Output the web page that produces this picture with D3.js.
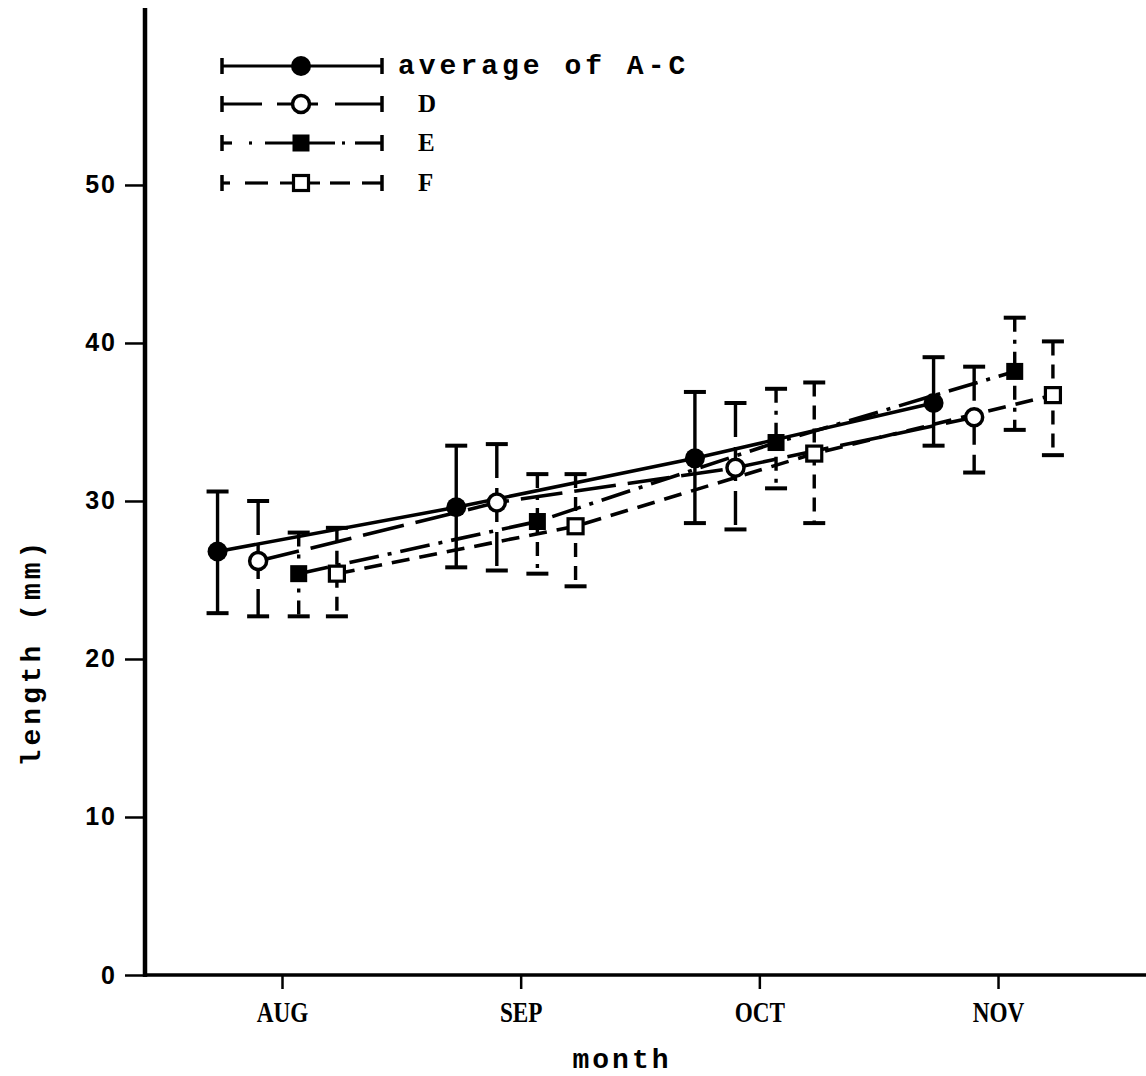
<!DOCTYPE html>
<html>
<head>
<meta charset="utf-8">
<script src="https://cdn.jsdelivr.net/npm/d3@7"></script>
<style>
  html, body { margin: 0; padding: 0; background: #fff; }
  svg { display: block; }
</style>
</head>
<body>
<svg id="chart" width="1146" height="1076"></svg>
<script>
// ---- data ----
const months = ["AUG", "SEP", "OCT", "NOV"];
const seriesNames = ["average of A-C", "D", "E", "F"];
const yTicks = [0, 10, 20, 30, 40, 50];

const avgMean = [26.8, 29.6, 32.7, 36.2];
const avgLow  = [22.9, 25.8, 28.6, 33.5];
const avgHigh = [30.6, 33.5, 36.9, 39.1];

const dMean = [26.2, 29.9, 32.1, 35.3];
const dLow  = [22.7, 25.6, 28.2, 31.8];
const dHigh = [30.0, 33.6, 36.2, 38.5];

const eMean = [25.4, 28.7, 33.7, 38.2];
const eLow  = [22.7, 25.4, 30.8, 34.5];
const eHigh = [28.0, 31.7, 37.1, 41.6];

const fMean = [25.4, 28.4, 33.0, 36.7];
const fLow  = [22.7, 24.6, 28.6, 32.9];
const fHigh = [28.3, 31.7, 37.5, 40.1];

// ---- styling config ----
const dodge = [-0.27, -0.1, 0.07, 0.23];           // within-month offsets (in month units)
const dashes = [null, "42,12", "30,9,4,9", "18,10"];
const barDashes = [null, "34,10", "14,8,4,8", "14,9"];
const markers = ["circleFilled", "circleOpen", "squareFilled", "squareOpen"];
// legend sample line segments (relative 0..160 along the sample)
const legendSegs = [
  [[0, 160]],
  [[0, 40], [55, 96], [113, 160]],
  [[0, 10], [27, 30], [43, 113], [120, 123], [133, 160]],
  [[0, 8], [23, 46], [58, 98], [108, 128], [140, 160]]
];

const series = seriesNames.map((name, i) => ({
  name,
  mean: [avgMean, dMean, eMean, fMean][i],
  low:  [avgLow, dLow, eLow, fLow][i],
  high: [avgHigh, dHigh, eHigh, fHigh][i],
  dodge: dodge[i], dash: dashes[i], barDash: barDashes[i], marker: markers[i]
}));

const svg = d3.select("#chart");
const x = d3.scaleLinear().domain([-0.574, 3.62]).range([145, 1146]);
const y = d3.scaleLinear().domain([0, 61.2]).range([975, 8]);

const mono = "'Liberation Mono', 'DejaVu Sans Mono', monospace";

// axes
const yAxis = d3.axisLeft(y).tickValues(yTicks).tickSize(20).tickPadding(8).tickFormat(d3.format("d"));
const gy = svg.append("g").attr("transform", "translate(145,0)").call(yAxis);
gy.select(".domain").remove();
gy.selectAll(".tick line").attr("stroke", "#000").attr("stroke-width", 2.5);
gy.selectAll(".tick text").attr("font-family", "'Liberation Sans', Arial, sans-serif")
  .attr("font-size", 25).attr("font-weight", "bold").attr("fill", "#000").attr("letter-spacing", 2);
svg.append("line").attr("x1", 145).attr("x2", 145).attr("y1", 8).attr("y2", 977)
  .attr("stroke", "#000").attr("stroke-width", 4.5);

const xAxis = d3.axisBottom(x).tickValues(d3.range(months.length)).tickSize(14).tickPadding(12)
  .tickFormat(i => months[i]);
const gx = svg.append("g").attr("transform", `translate(0,${y(0)})`).call(xAxis);
gx.select(".domain").remove();
gx.selectAll(".tick line").attr("stroke", "#000").attr("stroke-width", 2.5);
gx.selectAll(".tick text").attr("font-family", "'Liberation Serif', 'DejaVu Serif', serif")
  .attr("font-size", 29).attr("font-weight", "bold").attr("fill", "#000")
  .attr("transform", "scale(0.8,1)");
svg.append("line").attr("x1", 143).attr("x2", 1146).attr("y1", y(0)).attr("y2", y(0))
  .attr("stroke", "#000").attr("stroke-width", 3.5);

// axis titles
svg.append("text").attr("transform", `translate(40,652) rotate(-90)`)
  .attr("text-anchor", "middle").attr("font-family", mono).attr("font-weight", "bold")
  .attr("font-size", 28).attr("letter-spacing", 4).text("length (mm)");
svg.append("text").attr("x", 622).attr("y", 1068).attr("text-anchor", "middle")
  .attr("font-family", mono).attr("font-weight", "bold")
  .attr("font-size", 28).attr("letter-spacing", 3).text("month");

// lines
const plot = svg.append("g");
const line = d3.line().x(d => x(d[0])).y(d => y(d[1]));
series.forEach(s => {
  const pts = s.mean.map((v, i) => [i + s.dodge, v]);
  plot.append("path").attr("d", line(pts)).attr("fill", "none")
    .attr("stroke", "#000").attr("stroke-width", 3.6)
    .attr("stroke-dasharray", s.dash);
});

// error bars
const capW = 11;
series.forEach(s => {
  s.mean.forEach((v, i) => {
    const cx = x(i + s.dodge);
    const g = plot.append("g").attr("stroke", "#000");
    g.append("line").attr("x1", cx).attr("x2", cx).attr("y1", y(s.high[i])).attr("y2", y(s.low[i]))
      .attr("stroke-width", 3.4).attr("stroke-dasharray", s.barDash);
    [s.high[i], s.low[i]].forEach(val => {
      g.append("line").attr("x1", cx - capW).attr("x2", cx + capW)
        .attr("y1", y(val)).attr("y2", y(val)).attr("stroke-width", 4);
    });
  });
});

// markers
function drawMarker(g, type, cx, cy) {
  if (type === "circleFilled") {
    g.append("circle").attr("cx", cx).attr("cy", cy).attr("r", 10).attr("fill", "#000");
  } else if (type === "circleOpen") {
    g.append("circle").attr("cx", cx).attr("cy", cy).attr("r", 8.5)
      .attr("fill", "#fff").attr("stroke", "#000").attr("stroke-width", 3.5);
  } else if (type === "squareFilled") {
    g.append("rect").attr("x", cx - 8.5).attr("y", cy - 8.5).attr("width", 17).attr("height", 17).attr("fill", "#000");
  } else {
    g.append("rect").attr("x", cx - 7.5).attr("y", cy - 7.5).attr("width", 15).attr("height", 15)
      .attr("fill", "#fff").attr("stroke", "#000").attr("stroke-width", 3.2);
  }
}
series.forEach(s => {
  s.mean.forEach((v, i) => drawMarker(plot, s.marker, x(i + s.dodge), y(v)));
});

// legend
const legend = svg.append("g");
const legY = [66, 104, 143, 183];
series.forEach((s, i) => {
  const ly = legY[i];
  const g = legend.append("g");
  legendSegs[i].forEach(([a, b]) => {
    g.append("line").attr("x1", 222 + a).attr("x2", 222 + b).attr("y1", ly).attr("y2", ly)
      .attr("stroke", "#000").attr("stroke-width", 3.2);
  });
  [222, 382].forEach(xx => {
    g.append("line").attr("x1", xx).attr("x2", xx).attr("y1", ly - 8).attr("y2", ly + 8)
      .attr("stroke", "#000").attr("stroke-width", 3.5);
  });
  drawMarker(g, s.marker, 301, ly);
  g.append("text").attr("x", i === 0 ? 398 : 418).attr("y", ly + 8)
    .attr("font-family", i === 0 ? mono : "'Liberation Serif', serif").attr("font-weight", "bold")
    .attr("font-size", i === 0 ? 28 : 25).attr("letter-spacing", i === 0 ? 4 : 0).text(s.name);
});
</script>
</body>
</html>
